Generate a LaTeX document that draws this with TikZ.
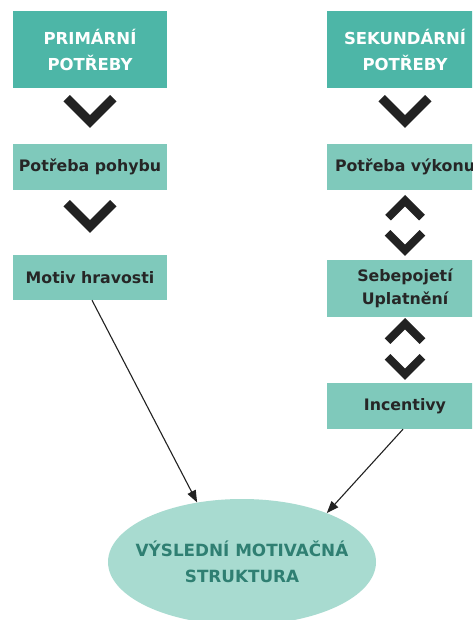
\documentclass[tikz,border=0pt]{standalone}
\usepackage{fontspec}
\setmainfont{DejaVu Sans}
\usetikzlibrary{arrows.meta,shapes.geometric}
\definecolor{hdrc}{HTML}{4DB6A7}
\definecolor{midc}{HTML}{7FC9BB}
\definecolor{ellc}{HTML}{A8DBD0}
\definecolor{elltxt}{HTML}{2F7F72}
\definecolor{chevc}{HTML}{222222}
\definecolor{dtxt}{HTML}{262626}
\newcommand\chevdn[4]{% cx, top, d, t
  \draw[chevc, line width=#4pt, miter limit=10, line join=miter, line cap=butt]
    ({#1-#3},{#2+0.354*#4}) -- (#1,{#2+0.354*#4+#3}) -- ({#1+#3},{#2+0.354*#4});}
\newcommand\chevup[4]{% cx, top, d, t
  \draw[chevc, line width=#4pt, miter limit=10, line join=miter, line cap=butt]
    ({#1-#3},{#2+0.707*#4+#3}) -- (#1,{#2+0.707*#4}) -- ({#1+#3},{#2+0.707*#4+#3});}
\begin{document}
\begin{tikzpicture}[x=1pt,y=-1pt,
  hdr/.style={fill=hdrc, text=white, minimum width=154pt, minimum height=77pt, inner sep=0pt, align=center,
     font=\fontsize{16.5}{26}\selectfont\bfseries},
  mid/.style={fill=midc, text=dtxt, minimum width=154pt, inner sep=0pt, align=center,
     font=\fontsize{15.8}{23}\selectfont\bfseries},
  ellshape/.style={ellipse, fill=ellc, minimum width=268pt, minimum height=126pt, inner sep=0pt},
  elltext/.style={text=elltxt, inner sep=0pt, align=center, font=\fontsize{16.8}{26}\selectfont\bfseries},
  arr/.style={draw=chevc, line width=1.1pt, -{Triangle[length=12pt,width=9pt]}}]
\useasboundingbox (0,0) rectangle (472,620);
\clip (0,0) rectangle (472,620);
\fill[white] (0,0) rectangle (472,620);
% left column
\node[hdr] (p1) at (90,49.5) {PRIMÁRNÍ\\POTŘEBY};
\node[mid, minimum height=46pt] (p2) at (90,167) {Potřeba pohybu};
\node[mid, minimum height=45pt] (p3) at (90,277.5) {Motiv hravosti};
% right column
\node[hdr, minimum width=156pt] (r1) at (405,49.5) {SEKUNDÁRNÍ\\POTŘEBY};
\node[mid, minimum width=156pt, minimum height=46pt] (r2) at (405,167) {Potřeba výkonu};
\node[mid, minimum width=156pt, minimum height=57pt] (r3) at (405,288.5) {Sebepojetí\\Uplatnění};
\node[mid, minimum width=156pt, minimum height=46pt] (r4) at (405,406) {Incentivy};
% result
\node[ellshape] (e) at (242,562) {};
\node[elltext] (et) at (e.center) {VÝSLEDNÍ MOTIVAČNÁ\\STRUKTURA};
% chevrons
\chevdn{90}{95}{23.4}{9}
\chevdn{90}{200}{23.4}{9}
\chevdn{405}{95}{23.4}{9}
\chevup{405}{195}{17}{8}
\chevdn{405}{230}{17.5}{8}
\chevup{405}{318}{17.5}{8}
\chevdn{405}{354}{17.5}{8}
% arrows
\draw[arr] ([xshift=2pt]p3.south) -- (e.127);
\draw[arr] ([xshift=-2pt]r4.south) -- (e.30);
\end{tikzpicture}
\end{document}
